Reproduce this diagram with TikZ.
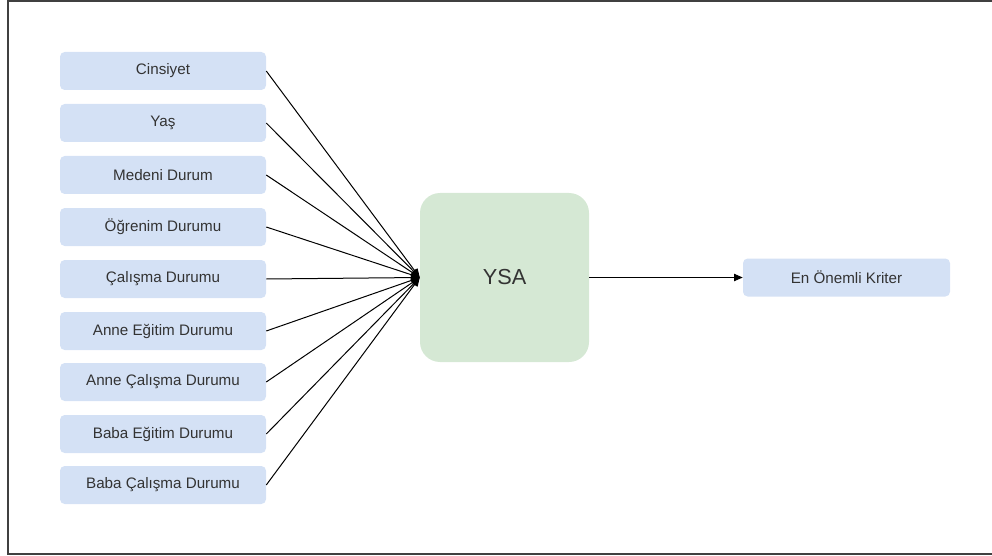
\documentclass[tikz,border=0pt]{standalone}
\usepackage{fontspec}
\setmainfont{Liberation Sans}
\usetikzlibrary{arrows.meta}
\definecolor{inbox}{HTML}{D4E1F5}
\definecolor{corebox}{HTML}{D5E8D4}
\definecolor{txt}{HTML}{333333}
\tikzset{
  factor/.style={fill=inbox, draw=none, rounded corners=3.5pt,
    minimum width=206*0.75pt, minimum height=38*0.75pt, inner sep=0pt,
    font=\fontsize{11.4}{13}\selectfont, text=txt},
  core/.style={fill=corebox, draw=none, rounded corners=15pt,
    minimum width=169*0.75pt, minimum height=169*0.75pt, inner sep=0pt,
    font=\fontsize{16.3}{19}\selectfont, text=txt},
  link/.style={draw=black, line width=0.75pt, -{Triangle[length=6.5pt,width=5.5pt]}}
}
\begin{document}
\begin{tikzpicture}[x=0.75pt,y=-0.75pt]
  \useasboundingbox (0,0) rectangle (992,556);
  % frame (its right side runs past the page)
  \draw[line width=1.1pt, draw=black!75] (1000,1) -- (8,1) -- (8,554) -- (1000,554);

  % input factors
  \node[factor] (f1) at (163,71)  {Cinsiyet};
  \node[factor] (f2) at (163,123) {Yaş};
  \node[factor] (f3) at (163,175) {Medeni Durum};
  \node[factor] (f4) at (163,227) {Öğrenim Durumu};
  \node[factor] (f5) at (163,279) {Çalışma Durumu};
  \node[factor] (f6) at (163,331) {Anne Eğitim Durumu};
  \node[factor] (f7) at (163,382) {Anne Çalışma Durumu};
  \node[factor] (f8) at (163,434) {Baba Eğitim Durumu};
  \node[factor] (f9) at (163,485) {Baba Çalışma Durumu};

  % network and result
  \node[core] (ysa) at (504.5,277.5) {YSA};
  \node[factor, minimum width=207*0.75pt] (out) at (846.5,277.5) {En Önemli Kriter};

  % connectors
  \foreach \i in {1,...,9}
    \draw[link] (f\i.east) -- (ysa.west);
  \draw[link] (ysa.east) -- (out.west);
\end{tikzpicture}
\end{document}
